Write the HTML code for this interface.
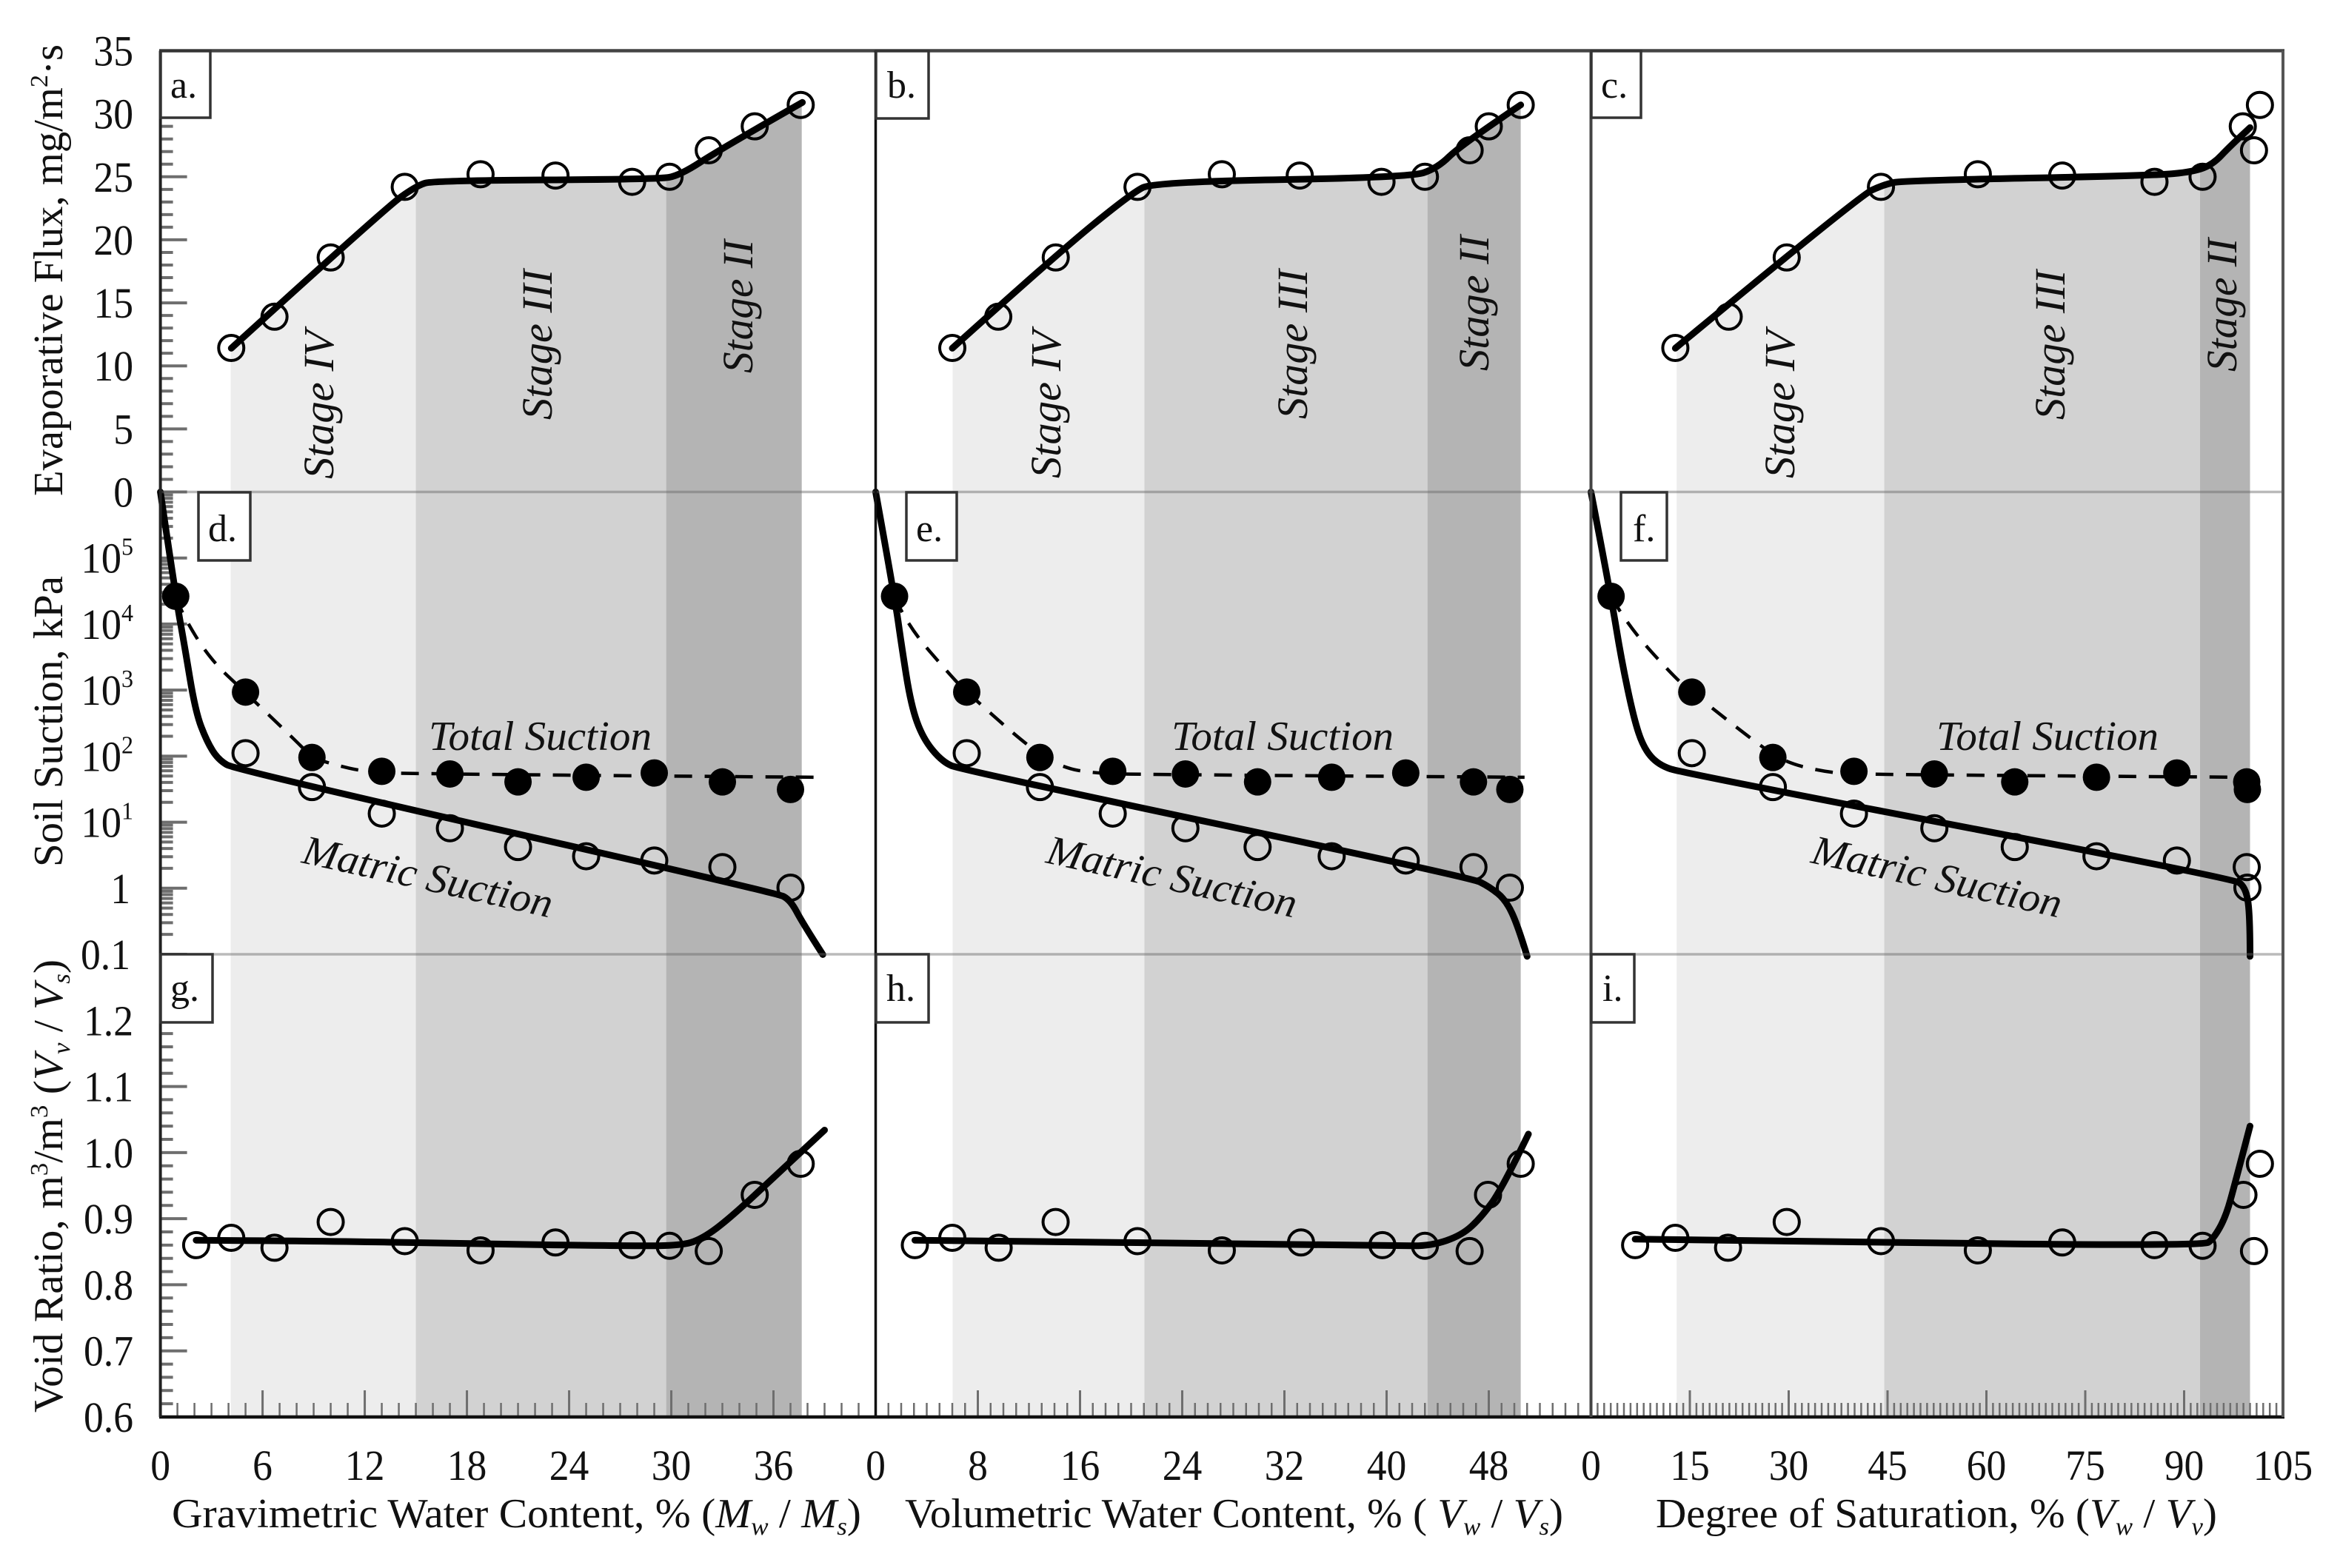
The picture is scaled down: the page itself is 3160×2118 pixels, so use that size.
<!DOCTYPE html>
<html lang="en">
<head>
<meta charset="utf-8">
<title>Evaporation stages versus water content</title>
<style>
html,body{margin:0;padding:0;background:#fff;}
svg{display:block;}
text{font-family:"Liberation Serif",serif;fill:#111;}
.tick{font-size:58px;}
.title{font-size:56px;}
.it{font-style:italic;}
.stage{font-size:58px;font-style:italic;}
.anno{font-size:56px;font-style:italic;}
.plabel{font-size:52px;}
.box{fill:#fff;stroke:#333;stroke-width:3.5;}
</style>
</head>
<body>
<svg id="chart" xmlns="http://www.w3.org/2000/svg" width="3160" height="2118" viewBox="0 0 3160 2118">
  <rect width="3160" height="2118" fill="#fff"/>
  <g id="bands"></g>
  <g id="ticks"></g>
  <g id="stage-labels">
    <text class="stage" transform="translate(450 647) rotate(-90)" textLength="201" lengthAdjust="spacingAndGlyphs">Stage IV</text>
    <text class="stage" transform="translate(745 567) rotate(-90)" textLength="203" lengthAdjust="spacingAndGlyphs">Stage III</text>
    <text class="stage" transform="translate(1016 504) rotate(-90)" textLength="180" lengthAdjust="spacingAndGlyphs">Stage II</text>
    <text class="stage" transform="translate(1432 646) rotate(-90)" textLength="200" lengthAdjust="spacingAndGlyphs">Stage IV</text>
    <text class="stage" transform="translate(1765 566) rotate(-90)" textLength="202" lengthAdjust="spacingAndGlyphs">Stage III</text>
    <text class="stage" transform="translate(2010 501) rotate(-90)" textLength="183" lengthAdjust="spacingAndGlyphs">Stage II</text>
    <text class="stage" transform="translate(2423 646) rotate(-90)" textLength="200" lengthAdjust="spacingAndGlyphs">Stage IV</text>
    <text class="stage" transform="translate(2788 567) rotate(-90)" textLength="202" lengthAdjust="spacingAndGlyphs">Stage III</text>
    <text class="stage" transform="translate(3020 502) rotate(-90)" textLength="180" lengthAdjust="spacingAndGlyphs">Stage II</text>
  </g>
  <g id="marks"></g>
  <g id="separators"></g>
  <g id="frame"></g>

  <g>
    <rect class="box" x="217" y="69" width="67" height="90"/>
    <text class="plabel" x="230" y="132">a.</text>
    <rect class="box" x="1183" y="69" width="71" height="91"/>
    <text class="plabel" x="1198" y="132">b.</text>
    <rect class="box" x="2149" y="69" width="67" height="90"/>
    <text class="plabel" x="2162" y="132">c.</text>
    <rect class="box" x="268" y="665" width="70" height="92"/>
    <text class="plabel" x="281" y="731">d.</text>
    <rect class="box" x="1224" y="665" width="68" height="92"/>
    <text class="plabel" x="1237" y="731">e.</text>
    <rect class="box" x="2189" y="665" width="62" height="92"/>
    <text class="plabel" x="2205" y="731">f.</text>
    <rect class="box" x="217" y="1289" width="70" height="92"/>
    <text class="plabel" x="230" y="1352">g.</text>
    <rect class="box" x="1183" y="1289" width="71" height="92"/>
    <text class="plabel" x="1197" y="1352">h.</text>
    <rect class="box" x="2149" y="1289" width="58" height="92"/>
    <text class="plabel" x="2164" y="1352">i.</text>
  </g>

  <g>
    <text class="anno" x="579" y="1013" textLength="301" lengthAdjust="spacingAndGlyphs">Total Suction</text>
    <text class="anno" x="1582" y="1013" textLength="300" lengthAdjust="spacingAndGlyphs">Total Suction</text>
    <text class="anno" x="2615" y="1013" textLength="300" lengthAdjust="spacingAndGlyphs">Total Suction</text>
    <text class="anno" transform="translate(406 1165) rotate(12.5)" textLength="344" lengthAdjust="spacingAndGlyphs">Matric Suction</text>
    <text class="anno" transform="translate(1411 1165) rotate(12.5)" textLength="344" lengthAdjust="spacingAndGlyphs">Matric Suction</text>
    <text class="anno" transform="translate(2444 1165) rotate(12.5)" textLength="344" lengthAdjust="spacingAndGlyphs">Matric Suction</text>
  </g>

  <g id="tick-labels"></g>

  <g>
    <text class="title" transform="translate(84 670) rotate(-90)" textLength="610" lengthAdjust="spacingAndGlyphs">Evaporative Flux, mg/m<tspan font-size="34" dy="-20">2</tspan><tspan dy="20">·s</tspan></text>
    <text class="title" transform="translate(84 1171) rotate(-90)" textLength="393" lengthAdjust="spacingAndGlyphs">Soil Suction, kPa</text>
    <text class="title" transform="translate(84 1908) rotate(-90)" textLength="612" lengthAdjust="spacingAndGlyphs">Void Ratio, m<tspan font-size="34" dy="-20">3</tspan><tspan dy="20">/m</tspan><tspan font-size="34" dy="-20">3</tspan><tspan dy="20"> (</tspan><tspan class="it">V</tspan><tspan class="it" font-size="34" dy="10">v</tspan><tspan dy="-10"> / </tspan><tspan class="it">V</tspan><tspan class="it" font-size="34" dy="10">s</tspan><tspan dy="-10">)</tspan></text>
    <text class="title" x="232" y="2063" textLength="931" lengthAdjust="spacingAndGlyphs">Gravimetric Water Content, % (<tspan class="it">M</tspan><tspan class="it" font-size="34" dy="10">w</tspan><tspan dy="-10"> / </tspan><tspan class="it">M</tspan><tspan class="it" font-size="34" dy="10">s</tspan><tspan dy="-10">)</tspan></text>
    <text class="title" x="1222" y="2063" textLength="889" lengthAdjust="spacingAndGlyphs">Volumetric Water Content, % ( <tspan class="it">V</tspan><tspan class="it" font-size="34" dy="10">w</tspan><tspan dy="-10"> / </tspan><tspan class="it">V</tspan><tspan class="it" font-size="34" dy="10">s</tspan><tspan dy="-10">)</tspan></text>
    <text class="title" x="2236" y="2063" textLength="758" lengthAdjust="spacingAndGlyphs">Degree of Saturation, % (<tspan class="it">V</tspan><tspan class="it" font-size="34" dy="10">w</tspan><tspan dy="-10"> / </tspan><tspan class="it">V</tspan><tspan class="it" font-size="34" dy="10">v</tspan><tspan dy="-10">)</tspan></text>
  </g>
</svg>

<script>
// ---------- data ----------
// Evaporative flux points (mg/m2/s) shared by the three top panels
const fluxValues = [11.42, 13.9, 18.6, 24.2, 25.2, 25.1, 24.6, 25.0, 27.1, 29.0, 30.7];
const gravFluxX = [4.16, 6.7, 10, 14.35, 18.8, 23.2, 27.7, 29.9, 32.2, 34.9, 37.6];
const volFluxX = [6, 9.6, 14.1, 20.5, 27.1, 33.2, 39.6, 43, 46.5, 48, 50.5];
const satFluxX = [12.8, 20.9, 29.7, 44, 58.7, 71.5, 85.5, 92.8, 100.6, 98.9, 101.5];

const gravFluxFitX = [4.16, 13.2, 15.05, 16.05, 29.2, 30.5, 32.9, 37.7];
const gravFluxFitY = [11.4, 22.5, 24.3, 24.7, 24.8, 25.1, 27.2, 30.9];
const volFluxFitX = [6, 14.05, 20, 21.8, 41.8, 44, 45.8, 50.5];
const volFluxFitY = [11.4, 18.75, 23.67, 24.6, 24.95, 25.7, 27.5, 30.7];
const satFluxFitX = [12.8, 40.8, 44.5, 47.5, 85.5, 91.4, 94.4, 97, 100];
const satFluxFitY = [11.4, 23.5, 24.4, 24.7, 25.1, 25.4, 26, 27.45, 28.9];

// Soil suction points (kPa)
const matricValues = [111, 34, 13.5, 8.1, 4.2, 3.05, 2.63, 2.09, 1.02];
const totalValues = [26300, 933, 95.5, 58.9, 53.7, 40.7, 47.9, 55.6, 40.7, 31.3];
const gravMatricX = [5, 8.9, 13, 17, 21, 25, 29, 33, 37];
const gravTotalX = [0.9, 5, 8.9, 13, 17, 21, 25, 29, 33, 37];
const volMatricX = [7.13, 12.86, 18.56, 24.25, 29.9, 35.7, 41.5, 46.8, 49.65];
const volTotalX = [1.48, 7.13, 12.86, 18.56, 24.25, 29.9, 35.7, 41.5, 46.8, 49.65];
const satMatricX = [15.3, 27.6, 39.9, 52.1, 64.3, 76.7, 88.9, 99.5, 99.6];
const satTotalX = [3.05, 15.3, 27.6, 39.9, 52.1, 64.3, 76.7, 88.9, 99.5, 99.6];

const gravMatricFitX = [0, 0.9, 1.4, 2.06, 2.73, 3.4, 4.4, 36.2, 37, 37.7, 38.9];
const gravMatricFitY = [1e6, 26300, 5000, 468, 166, 88, 62.4, 0.85, 0.66, 0.3, 0.099];
const volMatricFitX = [0, 1.48, 2.03, 2.77, 3.7, 5.18, 6.65, 46.6, 48.06, 49.35, 50.3, 51];
const volMatricFitY = [1e6, 26300, 4680, 589, 186, 83, 62.4, 1.45, 1.05, 0.66, 0.263, 0.093];
const satMatricFitX = [0, 3.05, 4.6, 6.5, 8, 10.2, 13.9, 97.4, 99.3, 100, 100];
const satMatricFitY = [1e6, 26300, 2950, 372, 132, 74, 55.6, 1.4, 1.05, 0.417, 0.093];

const gravTotalFitX = [0.9, 1.23, 2.9, 4.96, 7.6, 8.92, 10.2, 11.9, 13.9, 38.5];
const gravTotalFitY = [26300, 14800, 2950, 933, 209, 95.5, 74, 58.9, 53.7, 47.9];
const volTotalFitX = [1.48, 2.4, 6.1, 7.13, 12.4, 14.8, 17, 20.3, 50.8];
const volTotalFitY = [26300, 9890, 1480, 933, 117, 66, 55.6, 52.5, 47.9];
const satTotalFitX = [3.05, 5.4, 12.4, 15.3, 25.1, 29.6, 36.3, 42.25, 99.6];
const satTotalFitY = [26300, 10000, 1660, 933, 158, 79, 55.6, 52.5, 47.9];

// Void ratio points
const voidValues = [0.86, 0.871, 0.856, 0.895, 0.866, 0.852, 0.864, 0.86, 0.859, 0.851, 0.936, 0.983];
const gravVoidX = [2.1, 4.16, 6.7, 10, 14.35, 18.8, 23.2, 27.7, 29.9, 32.2, 34.9, 37.6];
const volVoidX = [3.07, 6, 9.63, 14.09, 20.5, 27.1, 33.3, 39.67, 43, 46.5, 47.94, 50.5];
const satVoidX = [6.7, 12.8, 20.8, 29.7, 44, 58.7, 71.5, 85.5, 92.8, 100.6, 99, 101.5];

const gravVoidFitX = [2.1, 10.6, 18, 27, 30.5, 31.8, 33.5, 36.5, 39];
const gravVoidFitY = [0.8675, 0.866, 0.862, 0.859, 0.859, 0.869, 0.902, 0.974, 1.034];
const volVoidFitX = [3.07, 16, 40.8, 43.5, 45.9, 47.4, 49, 51.1];
const volVoidFitY = [0.8675, 0.865, 0.859, 0.859, 0.875, 0.902, 0.944, 1.028];
const satVoidFitX = [6.7, 33.5, 92.9, 94.4, 96.3, 97.8, 100];
const satVoidFitY = [0.869, 0.865, 0.859, 0.869, 0.902, 0.956, 1.04];

// Stage boundaries on each x axis: start IV, III, II, end
const gravStages = [4.13, 15, 29.7, 37.66];
const volStages = [6.03, 21.04, 43.2, 50.5];
const satStages = [13, 44.5, 92.4, 100];

// Tick labels
const gravTicks = [0, 6, 12, 18, 24, 30, 36];
const volTicks = [0, 8, 16, 24, 32, 40, 48];
const satTicks = [0, 15, 30, 45, 60, 75, 90, 105];
const fluxTicks = [0, 5, 10, 15, 20, 25, 30, 35];
const suctionTicks = [0.1, 1, 10, 100, 1000, 10000, 100000];
const voidTicks = [0.6, 0.7, 0.8, 0.9, 1.0, 1.1, 1.2];

// ---------- axis functions ----------
const svgNS = 'http://www.w3.org/2000/svg';
const yTop = 68.5, yFluxZero = 664.5, ySuctionLow = 1289, yBottom = 1914;
function fluxY(v) { return yFluxZero - (v / 35) * (yFluxZero - yTop); }
function suctionY(v) { return ySuctionLow - (Math.log10(v) + 1) * (ySuctionLow - yFluxZero) / 7; }
function voidY(v) { return yBottom - (v - 0.6) / 0.7 * (yBottom - ySuctionLow); }
function axisX(x0, x1, max) { return function (v) { return x0 + (v / max) * (x1 - x0); }; }
const gravScale = axisX(216.6, 1182.5, 42);
const volScale = axisX(1182.5, 2148.5, 56);
const satScale = axisX(2148.5, 3083, 105);

function make(parent, tag, attrs, name) {
  const el = document.createElementNS(svgNS, tag);
  for (const k in attrs) el.setAttribute(k, attrs[k]);
  
  
  parent.appendChild(el);
  return el;
}
function pts(xs, ys, sx, sy) { return xs.map(function (x, i) { return [sx(x), sy(ys[i])]; }); }
function smoothPath(p) {
  let d = 'M' + p[0][0].toFixed(1) + ' ' + p[0][1].toFixed(1);
  for (let i = 1; i < p.length - 1; i++) {
    const mx = (p[i][0] + p[i + 1][0]) / 2, my = (p[i][1] + p[i + 1][1]) / 2;
    const a = i === p.length - 2 ? p[i + 1] : [mx, my];
    d += 'Q' + p[i][0].toFixed(1) + ' ' + p[i][1].toFixed(1) + ' ' + a[0].toFixed(1) + ' ' + a[1].toFixed(1);
  }
  if (p.length === 2) d += 'L' + p[1][0].toFixed(1) + ' ' + p[1][1].toFixed(1);
  return d;
}

const bands = document.getElementById('bands');
const ticks = document.getElementById('ticks');
const marks = document.getElementById('marks');
const frame = document.getElementById('frame');
const separators = document.getElementById('separators');
const tickLabels = document.getElementById('tick-labels');

function drawBands(sx, stages, fitX, fitY, key) {
  const p = pts(fitX, fitY, sx, fluxY);
  const fills = ['#ededed', '#d2d2d2', '#b4b4b4'];
  const stageNames = ['iv', 'iii', 'ii'];
  const left = p[0][0] - 20, right = p[p.length - 1][0] + 20;
  const areaPoints = [[left, p[0][1]]].concat(p, [[right, p[p.length - 1][1]], [right, yBottom], [left, yBottom]]);
  const cid = 'area-' + key;
  const cp = make(bands, 'clipPath', { id: cid }, 'stage-area-clip-' + key);
  make(cp, 'polygon', { points: areaPoints.map(function (q) { return q.join(','); }).join(' ') }, 'stage-area-shape-' + key);
  for (let i = 0; i < 3; i++) {
    make(bands, 'rect', {
      x: sx(stages[i]), y: yTop, width: sx(stages[i + 1]) - sx(stages[i]), height: yBottom - yTop,
      fill: fills[i], 'clip-path': 'url(#' + cid + ')'
    }, 'stage-' + stageNames[i] + '-band-' + key);
  }
}

function drawCurve(xs, ys, sx, sy, name, dashed) {
  const attrs = { d: smoothPath(pts(xs, ys, sx, sy)), fill: 'none', stroke: '#000', 'stroke-linejoin': 'round' };
  if (dashed) { attrs['stroke-width'] = 4.5; attrs['stroke-dasharray'] = '24 17'; }
  else { attrs['stroke-width'] = 9; attrs['stroke-linecap'] = 'round'; }
  make(marks, 'path', attrs, name);
}
function drawPoints(xs, ys, sx, sy, name, filled) {
  xs.forEach(function (x, i) {
    const attrs = { cx: sx(x), cy: sy(ys[i]) };
    if (filled) { attrs.r = 18.5; attrs.fill = '#000'; }
    else { attrs.r = 17; attrs.fill = 'none'; attrs.stroke = '#000'; attrs['stroke-width'] = 4; }
    make(marks, 'circle', attrs, name + '-' + (i + 1));
  });
}

function tickLine(x1, y1, x2, y2, w, name) {
  make(ticks, 'line', { x1: x1, y1: y1, x2: x2, y2: y2, stroke: '#6e6e6e', 'stroke-width': w }, name);
}
function tickText(x, y, anchor, txt, name, extra) {
  const t = make(tickLabels, 'text', { x: x, y: y, 'text-anchor': anchor, class: 'tick', textLength: txt.replace('.', '').length * 26.8 + (txt.indexOf('.') >= 0 ? 13.4 : 0) + (extra || 0), lengthAdjust: 'spacingAndGlyphs' }, name);
  t.textContent = txt;
  return t;
}

// ---------- panels ----------
drawBands(gravScale, gravStages, gravFluxFitX, gravFluxFitY, 'a');
drawBands(volScale, volStages, volFluxFitX, volFluxFitY, 'b');
drawBands(satScale, satStages, satFluxFitX, satFluxFitY, 'c');

// flux
drawCurve(gravFluxFitX, gravFluxFitY, gravScale, fluxY, 'flux-fit-a');
drawCurve(volFluxFitX, volFluxFitY, volScale, fluxY, 'flux-fit-b');
drawCurve(satFluxFitX, satFluxFitY, satScale, fluxY, 'flux-fit-c');
drawPoints(gravFluxX, fluxValues, gravScale, fluxY, 'flux-point-a');
drawPoints(volFluxX, fluxValues, volScale, fluxY, 'flux-point-b');
drawPoints(satFluxX, fluxValues, satScale, fluxY, 'flux-point-c');

// suction
drawCurve(gravTotalFitX, gravTotalFitY, gravScale, suctionY, 'total-suction-fit-d', true);
drawCurve(volTotalFitX, volTotalFitY, volScale, suctionY, 'total-suction-fit-e', true);
drawCurve(satTotalFitX, satTotalFitY, satScale, suctionY, 'total-suction-fit-f', true);
drawCurve(gravMatricFitX, gravMatricFitY, gravScale, suctionY, 'matric-suction-fit-d');
drawCurve(volMatricFitX, volMatricFitY, volScale, suctionY, 'matric-suction-fit-e');
drawCurve(satMatricFitX, satMatricFitY, satScale, suctionY, 'matric-suction-fit-f');
drawPoints(gravMatricX, matricValues, gravScale, suctionY, 'matric-point-d');
drawPoints(volMatricX, matricValues, volScale, suctionY, 'matric-point-e');
drawPoints(satMatricX, matricValues, satScale, suctionY, 'matric-point-f');
drawPoints(gravTotalX, totalValues, gravScale, suctionY, 'total-point-d', true);
drawPoints(volTotalX, totalValues, volScale, suctionY, 'total-point-e', true);
drawPoints(satTotalX, totalValues, satScale, suctionY, 'total-point-f', true);

// void ratio
drawCurve(gravVoidFitX, gravVoidFitY, gravScale, voidY, 'void-fit-g');
drawCurve(volVoidFitX, volVoidFitY, volScale, voidY, 'void-fit-h');
drawCurve(satVoidFitX, satVoidFitY, satScale, voidY, 'void-fit-i');
drawPoints(gravVoidX, voidValues, gravScale, voidY, 'void-point-g');
drawPoints(volVoidX, voidValues, volScale, voidY, 'void-point-h');
drawPoints(satVoidX, voidValues, satScale, voidY, 'void-point-i');

// ---------- ticks ----------
const xAxisLeft = 216.6;
for (let v = 0; v <= 35; v++) {
  const major = v % 5 === 0;
  tickLine(xAxisLeft, fluxY(v), xAxisLeft + (major ? 36 : 17), fluxY(v), 4, 'flux-tick');
}
for (let d = -1; d < 6; d++) {
  for (let k = 1; k <= 9; k++) {
    const v = k * Math.pow(10, d);
    tickLine(xAxisLeft, suctionY(v), xAxisLeft + (k === 1 ? 36 : 17), suctionY(v), 4, 'suction-tick');
  }
}
for (let i = 0; i <= 35; i++) {
  const v = 0.6 + i * 0.02;
  tickLine(xAxisLeft, voidY(v), xAxisLeft + (i % 5 === 0 ? 36 : 17), voidY(v), 4, 'void-tick');
}
function bottomTicks(sx, max, step, name) {
  for (let v = 0; v <= max; v++) {
    const major = v % step === 0;
    tickLine(sx(v), yBottom, sx(v), yBottom - (major ? 36 : 19), major ? 3 : 2.5, name);
  }
}
bottomTicks(gravScale, 42, 6, 'gravimetric-tick');
bottomTicks(volScale, 56, 8, 'volumetric-tick');
bottomTicks(satScale, 105, 15, 'saturation-tick');

// ---------- tick labels ----------
const yLabelX = 180;
fluxTicks.forEach(function (v) { tickText(yLabelX, fluxY(v) + 20, 'end', String(v), 'flux-tick-label'); });
voidTicks.forEach(function (v) { tickText(yLabelX, voidY(v) + 20, 'end', v.toFixed(1), 'void-tick-label'); });
suctionTicks.forEach(function (v) {
  const e = Math.round(Math.log10(v));
  if (e === -1) { tickText(176, suctionY(v) + 20, 'end', '0.1', 'suction-tick-label'); return; }
  if (e === 0) { tickText(176, suctionY(v) + 20, 'end', '1', 'suction-tick-label'); return; }
  const t = tickText(yLabelX, suctionY(v) + 20, 'end', '10', 'suction-tick-label', 17);
  const s = make(t, 'tspan', { 'font-size': 34, dy: -24 }, 'suction-tick-exponent');
  s.textContent = String(e);
});
function xLabels(vals, sx, name) {
  vals.forEach(function (v) { tickText(sx(v), 1999, 'middle', String(v), name); });
}
xLabels(gravTicks, gravScale, 'gravimetric-tick-label');
xLabels(volTicks, volScale, 'volumetric-tick-label');
xLabels(satTicks, satScale, 'saturation-tick-label');

// ---------- frame ----------
make(separators, 'line', { x1: 216, y1: yFluxZero, x2: 3083, y2: yFluxZero, stroke: '#666', 'stroke-opacity': 0.45, 'stroke-width': 3.5 }, 'separator-flux-suction');
make(separators, 'line', { x1: 216, y1: ySuctionLow, x2: 3083, y2: ySuctionLow, stroke: '#666', 'stroke-opacity': 0.45, 'stroke-width': 3.5 }, 'separator-suction-void');
make(frame, 'line', { x1: 215, y1: yTop, x2: 3085, y2: yTop, stroke: '#444', 'stroke-width': 4.5 }, 'frame-top');
make(frame, 'line', { x1: 215, y1: yBottom, x2: 3085, y2: yBottom, stroke: '#111', 'stroke-width': 4.5 }, 'frame-bottom');
make(frame, 'line', { x1: 216.6, y1: yTop, x2: 216.6, y2: yBottom, stroke: '#222', 'stroke-width': 4 }, 'frame-left');
make(frame, 'line', { x1: 1182.5, y1: yTop, x2: 1182.5, y2: yBottom, stroke: '#111', 'stroke-width': 3.5 }, 'frame-divider-1');
make(frame, 'line', { x1: 2148.5, y1: yTop, x2: 2148.5, y2: yBottom, stroke: '#444', 'stroke-width': 4 }, 'frame-divider-2');
make(frame, 'line', { x1: 3083, y1: yTop, x2: 3083, y2: yBottom, stroke: '#555', 'stroke-width': 4 }, 'frame-right');
</script>
</body>
</html>
